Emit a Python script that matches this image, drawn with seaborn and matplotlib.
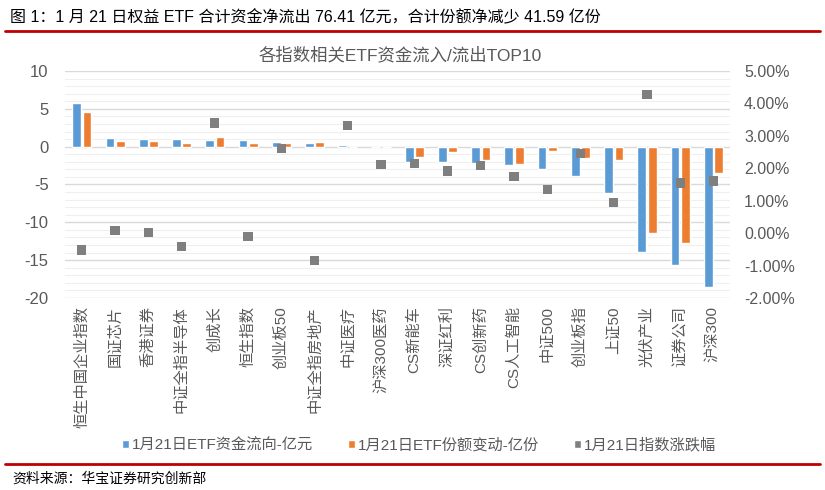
import matplotlib
matplotlib.use('Agg')
import matplotlib.pyplot as plt
import seaborn as sns
import numpy as np
import pandas as pd
from matplotlib.ticker import MultipleLocator, FuncFormatter
from matplotlib.patches import Patch
from matplotlib.lines import Line2D

# 数据
指数 = ['恒生中国企业指数', '国证芯片', '香港证券', '中证全指半导体', '创成长',
        '恒生指数', '创业板50', '中证全指房地产', '中证医疗', '沪深300医药',
        'CS新能车', '深证红利', 'CS创新药', 'CS人工智能', '中证500',
        '创业板指', '上证50', '光伏产业', '证券公司', '沪深300']
资金流向 = [5.72, 1.19, 1.06, 1.06, 0.92, 0.92, 0.66, 0.53, 0.26, 0.0,
            -2.05, -2.0, -2.2, -2.4, -2.95, -3.9, -6.1, -13.9, -15.6, -18.6]
份额变动 = [4.53, 0.79, 0.79, 0.44, 1.32, 0.44, 0.44, 0.66, 0.0, 0.0,
            -1.3, -0.7, -1.8, -2.3, -0.6, -1.5, -1.8, -11.4, -12.7, -3.5]
涨跌幅 = [-0.52, 0.07, 0.01, -0.42, 3.40, -0.11, 2.60, -0.85, 3.31, 2.11,
          2.14, 1.92, 2.08, 1.74, 1.34, 2.45, 0.94, 4.27, 1.55, 1.61]

系列 = ['1月21日ETF资金流向-亿元', '1月21日ETF份额变动-亿份', '1月21日指数涨跌幅']
颜色 = ['#5B9BD5', '#ED7D31', '#7F7F7F']

sns.set_style('white')
plt.rcParams['font.family'] = ['Liberation Sans', 'Noto Sans CJK SC', 'DejaVu Sans']
plt.rcParams['axes.unicode_minus'] = False

df = pd.DataFrame({
    '指数': 指数 * 2,
    '数值': 资金流向 + 份额变动,
    '系列': [系列[0]] * len(指数) + [系列[1]] * len(指数),
})

fig = plt.figure(figsize=(8.25, 4.9), dpi=100)
ax = fig.add_axes([0.079, 0.392, 0.806, 0.463])

sns.barplot(data=df, x='指数', y='数值', hue='系列', order=指数,
            palette=颜色[:2], width=0.62, gap=0.15, ax=ax,
            legend=False, zorder=2, saturation=1)

ax.set_ylim(-20, 10)
ax.yaxis.set_major_locator(MultipleLocator(5))
ax.yaxis.set_minor_locator(MultipleLocator(1))
ax.grid(which='major', axis='y', color='#d9d9d9', linewidth=1.0, zorder=0)
ax.grid(which='minor', axis='y', color='#efefef', linewidth=0.8, zorder=0)
ax.set_axisbelow(True)
for s in ax.spines.values():
    s.set_visible(False)
ax.set_xlim(-0.5, len(指数) - 0.5)
ax.set_xlabel('')
ax.set_ylabel('')
ax.tick_params(axis='y', which='both', length=0, labelsize=12, labelcolor='#595959', pad=12)
ax.tick_params(axis='x', length=0, labelsize=11, labelcolor='#595959', pad=6)
ax.set_xticks(range(len(指数)))
ax.set_xticklabels(指数, rotation=90, va='top')

ax2 = ax.twinx()
sns.scatterplot(x=np.arange(len(指数)), y=涨跌幅, marker='s', s=45,
                color=颜色[2], edgecolor='none', ax=ax2, zorder=3)
ax2.set_ylim(-2, 5)
ax2.yaxis.set_major_locator(MultipleLocator(1))
ax2.yaxis.set_major_formatter(FuncFormatter(lambda v, p: f'{v:.2f}%'))
ax2.tick_params(axis='y', length=0, labelsize=11.5, labelcolor='#595959', pad=10)
for s in ax2.spines.values():
    s.set_visible(False)
ax2.set_xlim(-0.5, len(指数) - 0.5)

# 标题
fig.text(0.485, 0.887, '各指数相关ETF资金流入/流出TOP10', ha='center', va='center',
         fontsize=12.5, color='#595959')
fig.text(0.012, 0.965, '图 1：1 月 21 日权益 ETF 合计资金净流出 76.41 亿元，合计份额净减少 41.59 亿份',
         ha='left', va='center', fontsize=11.5, color='black')
fig.add_artist(Line2D([0.006, 0.994], [0.937, 0.937], transform=fig.transFigure,
                      color='#C00000', linewidth=2))
fig.add_artist(Line2D([0.006, 0.994], [0.053, 0.053], transform=fig.transFigure,
                      color='#C00000', linewidth=2))
fig.text(0.015, 0.024, '资料来源：华宝证券研究创新部', ha='left', va='center',
         fontsize=10, color='black')

# 图例
句柄 = [Patch(facecolor=颜色[0]), Patch(facecolor=颜色[1]), Patch(facecolor=颜色[2])]
fig.legend(句柄, 系列, loc='center', bbox_to_anchor=(0.508, 0.092), ncol=3,
           frameon=False, fontsize=11, handlelength=0.45, handleheight=0.45,
           handletextpad=0.2, columnspacing=2.3, labelcolor='#595959')

fig.savefig('out.png', dpi=100)
plt.close(fig)
